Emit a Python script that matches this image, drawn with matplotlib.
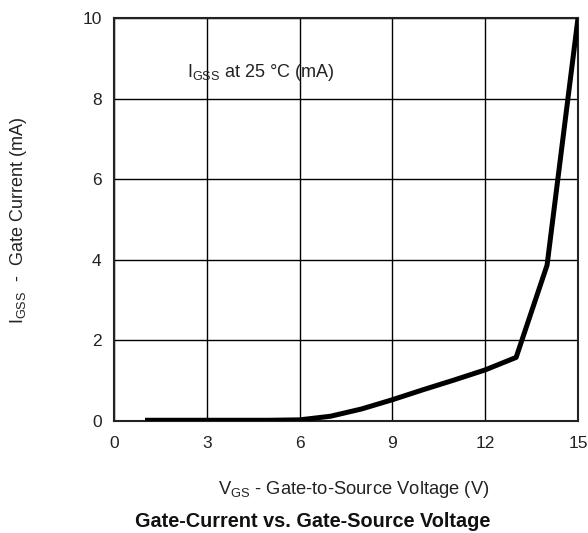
import numpy as np
import matplotlib
matplotlib.use("Agg")
import matplotlib.pyplot as plt

plt.rcParams["font.family"] = ["Liberation Sans", "DejaVu Sans"]
plt.rcParams["mathtext.default"] = "regular"

# gate-source voltage (V) and gate current (mA)
vgs = [1, 2, 3, 4, 5, 6, 7, 8, 9, 10, 11, 12, 13, 14, 15]
igss = [0.02, 0.02, 0.02, 0.02, 0.02, 0.03, 0.12, 0.3, 0.53, 0.78, 1.02, 1.27, 1.58, 3.87, 10.0]

x_ticks = [0, 3, 6, 9, 12, 15]
y_ticks = [0, 2, 4, 6, 8, 10]

fig = plt.figure(figsize=(5.88, 5.33), dpi=100)
ax = fig.add_axes([0.194, 0.210, 0.789, 0.756])

ax.plot(vgs, igss, color="black", linewidth=3.6, solid_capstyle="butt", zorder=3)

ax.set_xlim(0, 15)
ax.set_ylim(0, 10)
ax.set_xticks(x_ticks)
ax.set_yticks(y_ticks)
ax.grid(True, color="black", linewidth=1.0)
ax.tick_params(length=0, labelsize=12.5, colors="#222222")
ax.tick_params(axis="y", pad=9)
ax.tick_params(axis="x", pad=11)
for s in ax.spines.values():
    s.set_linewidth(1.5)
    s.set_color("#222222")

ax.text(2.35, 8.66, "I$_{GSS}$ at 25 °C (mA)", fontsize=13, color="#222222",
        va="center", ha="left")

fig.text(0.031, 0.587, "I$_{GSS}$  -  Gate Current (mA)", rotation=90,
         fontsize=13, color="#222222", ha="center", va="center")
fig.text(0.601, 0.081, "V$_{GS}$ - Gate-to-Source Voltage (V)", fontsize=13.2,
         color="#222222", ha="center", va="center")
fig.text(0.532, 0.021, "Gate-Current vs. Gate-Source Voltage", fontsize=14.3,
         fontweight="bold", color="#111111", ha="center", va="center")

fig.savefig("out.png", dpi=100)
